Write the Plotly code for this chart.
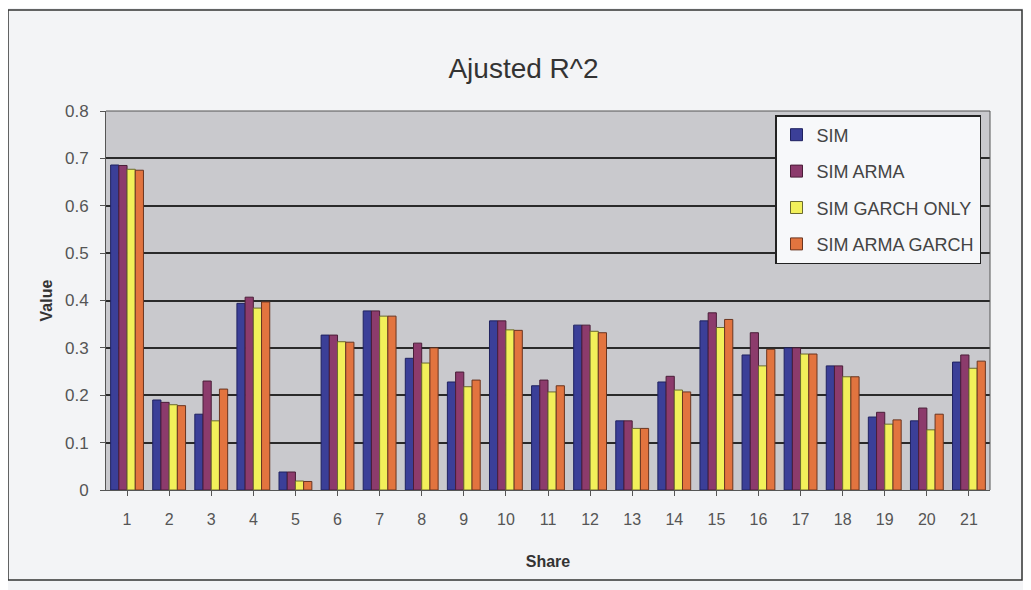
import plotly.graph_objects as go

shares = [str(i) for i in range(1, 22)]
sim = [0.686, 0.19, 0.16, 0.394, 0.038, 0.327, 0.378, 0.278, 0.228, 0.357, 0.22,
       0.348, 0.146, 0.228, 0.357, 0.285, 0.30, 0.262, 0.154, 0.146, 0.27]
sim_arma = [0.685, 0.185, 0.23, 0.407, 0.038, 0.327, 0.378, 0.31, 0.249, 0.357, 0.232,
            0.348, 0.146, 0.24, 0.374, 0.332, 0.30, 0.262, 0.164, 0.173, 0.285]
sim_garch = [0.677, 0.18, 0.146, 0.384, 0.019, 0.313, 0.367, 0.268, 0.218, 0.338, 0.207,
             0.335, 0.13, 0.211, 0.343, 0.262, 0.287, 0.239, 0.139, 0.127, 0.257]
sim_arma_garch = [0.675, 0.178, 0.213, 0.397, 0.018, 0.312, 0.367, 0.30, 0.232, 0.337, 0.22,
                  0.332, 0.13, 0.207, 0.36, 0.297, 0.287, 0.239, 0.148, 0.16, 0.272]
y_ticks = [0, 0.1, 0.2, 0.3, 0.4, 0.5, 0.6, 0.7, 0.8]
y_tick_labels = ["0", "0.1", "0.2", "0.3", "0.4", "0.5", "0.6", "0.7", "0.8"]

series = [
    ("SIM", sim, "#3b3f98", "#1f2260"),
    ("SIM ARMA", sim_arma, "#8c3b6c", "#4a1e38"),
    ("SIM GARCH ONLY", sim_garch, "#f2f05a", "#6a6a30"),
    ("SIM ARMA GARCH", sim_arma_garch, "#e2743f", "#6a3520"),
]

fig = go.Figure()
for name, vals, col, lcol in series:
    fig.add_trace(go.Bar(x=shares, y=vals, name=name, legendgroup=name,
                         marker=dict(color=col, line=dict(color=lcol, width=1))))

# page body has an 8px margin, so figure coords = screen coords - 8
OFF = 8
W, H = 1031, 590
L, R, T, B = 106 - OFF, W - (990 - OFF), 111 - OFF, H - (490 - OFF)
pw = W - L - R
ph = H - T - B

def px_x(x):
    return (x - OFF - L) / pw

def px_y(y):
    return (H - B - (y - OFF)) / ph

fig.update_layout(
    width=W, height=H,
    margin=dict(l=L, r=R, t=T, b=B),
    paper_bgcolor="#f3f4f6",
    plot_bgcolor="#c9c9cd",
    barmode="group",
    bargap=0.22,
    bargroupgap=0.0,
    font=dict(family="Arial, Liberation Sans, sans-serif", color="#333"),
    title=dict(text="Ajusted R^2", x=0.5, xanchor="center", y=1 - (68 - OFF) / H,
               yanchor="middle", font=dict(size=28, color="#333")),
    legend=dict(x=px_x(775), y=px_y(115), xanchor="left", yanchor="top",
                bgcolor="#f7f8fa", bordercolor="#222", borderwidth=1.5,
                font=dict(size=18, color="#444"), tracegroupgap=10,
                itemwidth=30),
    showlegend=True,
    xaxis=dict(title=dict(text="<b>Share</b>", font=dict(size=16, color="#333"), standoff=28),
               showline=True, linecolor="#555", ticks="outside", ticklen=5,
               tickcolor="#555", tickfont=dict(size=16, color="#555"),
               ticklabelstandoff=10, showgrid=False, mirror=False),
    yaxis=dict(title=dict(text="<b>Value</b>", font=dict(size=16, color="#333"), standoff=8),
               range=[0, 0.8], tickvals=y_ticks, ticktext=y_tick_labels,
               showline=True, linecolor="#555", ticks="outside", ticklen=5,
               tickcolor="#555", tickfont=dict(size=17, color="#555"),
               ticklabelstandoff=8,
               showgrid=True, gridcolor="#2a2a2a", gridwidth=1.5, zeroline=False),
)

fig.add_shape(type="rect", xref="paper", yref="paper",
              x0=px_x(8), x1=px_x(1022), y0=px_y(580), y1=px_y(10),
              line=dict(color="#333", width=1.5), fillcolor="rgba(0,0,0,0)", layer="below")
fig.add_shape(type="line", xref="paper", yref="paper",
              x0=0, x1=1, y0=1, y1=1, line=dict(color="#555", width=1))
fig.add_shape(type="line", xref="paper", yref="paper",
              x0=1, x1=1, y0=0, y1=1, line=dict(color="#555", width=1))

fig.write_html("out.html")
